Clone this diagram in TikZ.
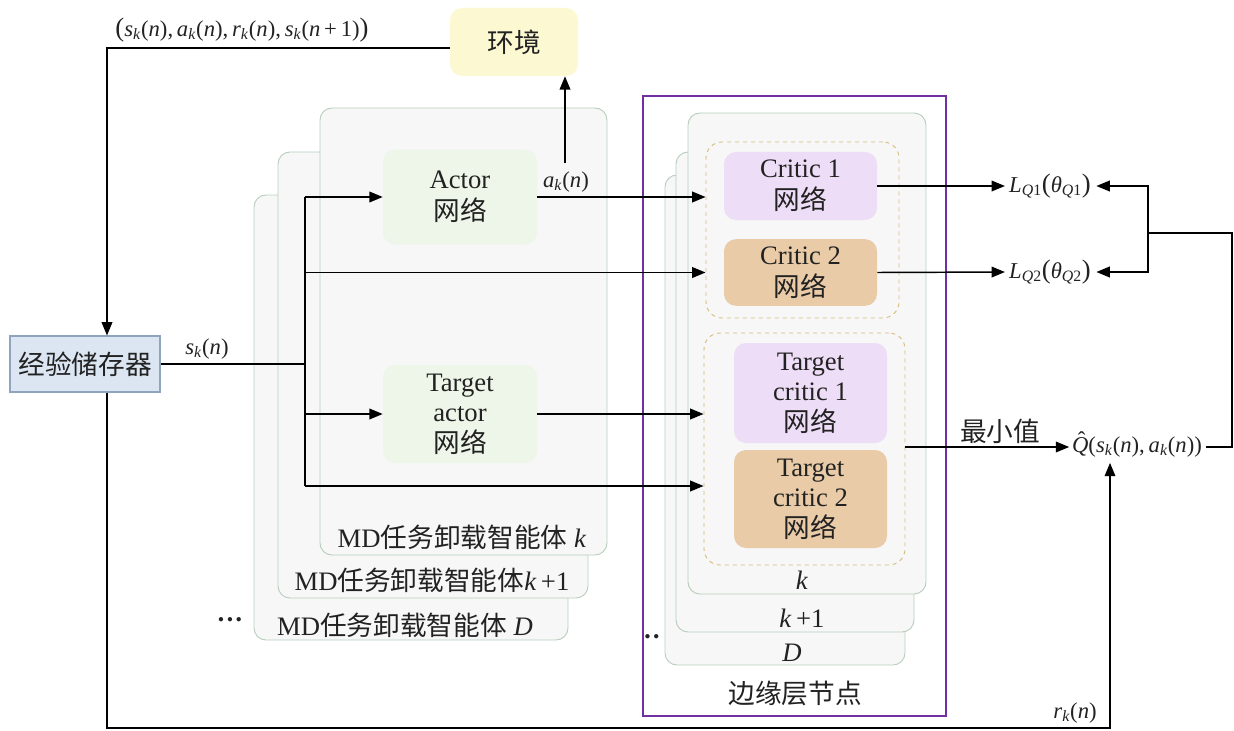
\documentclass[tikz,border=0pt]{standalone}
\usepackage{fontspec}
\setmainfont{Liberation Serif}
\newfontfamily\cjk{Noto Sans CJK SC}
\usetikzlibrary{arrows.meta}
\definecolor{envfill}{HTML}{FBF8D2}
\definecolor{memfill}{HTML}{DCE6F2}
\definecolor{memdraw}{HTML}{8EA4BF}
\definecolor{stackfill}{HTML}{F6F7F6}
\definecolor{stackdraw}{HTML}{B8CEBE}
\definecolor{greenfill}{HTML}{EDF6E9}
\definecolor{purp}{HTML}{7030A0}
\definecolor{lav}{HTML}{EEDDF7}
\definecolor{tan}{HTML}{E9CBA7}
\definecolor{dashc}{HTML}{D8BE7E}
\definecolor{txt}{HTML}{222222}
\newcommand\iv[1]{\textit{#1}}
\newcommand\sbs[1]{\textsubscript{\textit{#1}}}
\newsavebox\qbox
\newcommand\hatQ{\leavevmode\sbox\qbox{\iv{Q}}\rlap{\usebox\qbox}\makebox[\wd\qbox][c]{\hspace{0.12em}\raisebox{0.22em}[0pt][0pt]{\char"02C6}}}
\begin{document}
\begin{tikzpicture}[x=0.75pt,y=-0.75pt,
  every node/.style={text=txt, font=\fontsize{20}{23}\selectfont, inner sep=0pt},
  stack/.style={draw=stackdraw, fill=stackfill, line width=0.7pt, rounded corners=9pt},
  net/.style={rounded corners=9pt, align=center, minimum width=114.75pt},
  arr/.style={-{Triangle[length=10pt,width=8pt]}, line width=1.1pt, draw=black},
  ln/.style={line width=1.1pt, draw=black},
  lab/.style={font=\fontsize{17}{20}\selectfont},
  dbox/.style={draw=dashc, dashed, rounded corners=12pt, line width=0.7pt}]
\useasboundingbox (0,0) rectangle (1234,731);

% agent stacks
\path[stack] (254,195) rectangle (568,640);
\path[stack] (278,152) rectangle (588,598);
\path[stack] (320,108) rectangle (607,555);
\node (agk) at (462,537) {MD{\cjk 任务卸载智能体}\ \iv{k}};
\node (agk1) at (432,580) {MD{\cjk 任务卸载智能体}\iv{k}\,+1};
\node (agD) at (405,625) {MD{\cjk 任务卸载智能体}\ \iv{D}};
\node (dots1) at (230,623) {\textbf{\textperiodcentered\textperiodcentered\textperiodcentered}};

% edge node
\draw[purp, line width=2.2pt] (643,96) rectangle (946,716);
\path[stack] (665,175) rectangle (905,665);
\path[stack] (676,152) rectangle (914,632);
\path[stack] (688,113) rectangle (926,594);
\node (ek) at (802,580) {\iv{k}};
\node (ek1) at (802,618) {\iv{k}\,+1};
\node (eD) at (792,653) {\iv{D}};
\node (dots2) at (652,640) {\textbf{\textperiodcentered\textperiodcentered}};
\node (edge) at (795,693) {\cjk 边缘层节点};

\node[dbox, minimum width=144.75pt, minimum height=132pt] (dash1) at (802.5,230) {};
\node[dbox, minimum width=150.75pt, minimum height=174pt] (dash2) at (804.5,449) {};

% network boxes
\node[net, fill=envfill, minimum width=96pt, minimum height=51pt] (env) at (514,42) {\cjk 环境};
\node[draw=memdraw, fill=memfill, line width=0.8pt, minimum width=112.5pt, minimum height=42pt] (mem) at (85,364) {\cjk 经验储存器};
\node[net, fill=greenfill, minimum width=115.5pt, minimum height=71pt] (actor) at (460,197) {Actor\\[1pt]{\cjk 网络}};
\node[net, fill=greenfill, minimum width=115.5pt, minimum height=73.5pt] (tactor) at (460,414) {Target\\[0pt]actor\\[0pt]{\cjk 网络}};
\node[net, fill=lav, minimum height=51pt] (c1) at (800.5,186) {Critic 1\\[1pt]{\cjk 网络}};
\node[net, fill=tan, minimum height=50pt] (c2) at (800.5,272.5) {Critic 2\\[1pt]{\cjk 网络}};
\node[net, fill=lav, minimum height=75pt] (tc1) at (810.5,393) {Target\\[0pt]critic 1\\[0pt]{\cjk 网络}};
\node[net, fill=tan, minimum height=73.5pt] (tc2) at (810.5,499) {Target\\[0pt]critic 2\\[0pt]{\cjk 网络}};

% labels
\node[lab] (tup) at (242,30) {{\fontsize{20}{20}\selectfont(}\iv{s}\sbs{k}(\iv{n}),\,\iv{a}\sbs{k}(\iv{n}),\,\iv{r}\sbs{k}(\iv{n}),\,\iv{s}\sbs{k}(\iv{n}\,+\,1){\fontsize{20}{20}\selectfont)}};
\node[lab] (slab) at (207,349) {\iv{s}\sbs{k}(\iv{n})};
\node[lab] (alab) at (566,182) {\iv{a}\sbs{k}(\iv{n})};
\node[lab] (L1) at (1050,186) {\iv{L}\textsubscript{\iv{Q}1}{\fontsize{20}{20}\selectfont(}\iv{θ}\textsubscript{\iv{Q}1}{\fontsize{20}{20}\selectfont)}};
\node[lab] (L2) at (1050,272) {\iv{L}\textsubscript{\iv{Q}2}{\fontsize{20}{20}\selectfont(}\iv{θ}\textsubscript{\iv{Q}2}{\fontsize{20}{20}\selectfont)}};
\node[lab] (Q) at (1137,447) {\hatQ(\iv{s}\sbs{k}(\iv{n}),\,\iv{a}\sbs{k}(\iv{n}))};
\node (minv) at (1000,431) {\cjk 最小值};
\node[lab] (rlab) at (1075,713) {\iv{r}\sbs{k}(\iv{n})};

% coordinates
\coordinate (bus) at (305,364);
\coordinate (memx) at (107,364);
\coordinate (up) at (565,163);
\coordinate (b4) at (305,486);
\coordinate (rb) at (1148,233);
\coordinate (rr) at (1232,233);
\coordinate (bl) at (1110,728);

% connectors
\draw[arr] (env.west |- 0,48) -| (memx |- mem.north);
\draw[ln] (mem.east) -- (bus);
\draw[ln] (bus |- actor) -- (b4);
\draw[arr] (bus |- actor) -- (actor.west);
\draw[arr] (bus |- c2) -- (c2 -| dash1.west);
\draw[arr] (bus |- tactor) -- (tactor.west);
\draw[arr] (b4) -- (b4 -| dash2.west);
\draw[arr] (actor.east) -- (actor.east -| dash1.west);
\draw[arr] (up) -- (up |- env.south);
\draw[arr] (tactor.east) -- (tactor.east -| dash2.west);
\draw[arr] (c1.east) -- ([xshift=-3pt]L1.west);
\draw[arr] (c2.east) -- ([xshift=-3pt]L2.west);
\draw[arr] (dash2.east |- Q) -- ([xshift=-2pt]Q.west);
\draw[arr] (rb) |- ([xshift=4pt]L1.east);
\draw[arr] (rb) |- ([xshift=4pt]L2.east);
\draw[ln] ([xshift=3pt]Q.east) -| (rr) -- (rb);
\draw[arr] (memx |- mem.south) |- (bl) -- ([yshift=-4pt]bl |- Q.south);
\end{tikzpicture}
\end{document}
